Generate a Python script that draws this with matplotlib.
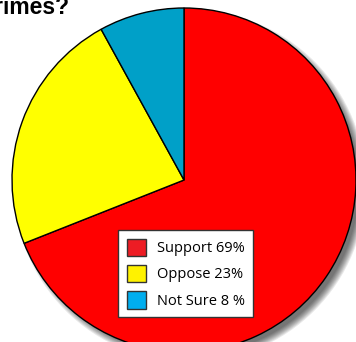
import matplotlib
matplotlib.use("Agg")
import matplotlib.pyplot as plt
from matplotlib.patches import Patch, Circle

## DATA ##
labels = ["Support", "Oppose", "Not Sure"]
shares = [69, 23, 8]
legend_text = ["Support 69%", "Oppose 23%", "Not Sure 8 %"]
title = "Do you support the death penalty for violent crimes?"

pie_colors = ["#FF0000", "#FFFF00", "#00A0C8"]
legend_colors = ["#ED1C24", "#FFF200", "#00AEEF"]

fig = plt.figure(figsize=(3.56, 3.42), dpi=100)
ax = fig.add_axes([0, 0, 1, 1])

# soft drop shadow behind the pie
for i in range(8):
    ax.add_patch(Circle((0.035, -0.035), 1.0 + 0.006 * (4 - i),
                        color="black", alpha=0.09, lw=0, zorder=0))

ax.pie(shares, colors=pie_colors, startangle=90, counterclock=False,
       radius=1.0, wedgeprops=dict(edgecolor="black", linewidth=1.0))

ax.set_xlim(-184 / 172, 172 / 172)
ax.set_ylim(-162 / 172, 180 / 172)
ax.set_aspect("equal")
ax.axis("off")

# title is cut off by the left edge in the original
fig.text(69 / 356, 1 - 14 / 342, title, ha="right", va="baseline",
         fontsize=16.5, fontweight="bold", family="Liberation Sans")

handles = [Patch(facecolor=c, edgecolor="#333333", linewidth=1.0) for c in legend_colors]
leg = ax.legend(handles, legend_text, loc="upper left",
                bbox_to_anchor=(118 / 356, 1 - 230 / 342),
                prop=dict(family="Open Sans", size=10.5),
                handlelength=1.3, handleheight=1.45, handletextpad=0.75,
                labelspacing=0.6, borderpad=0.6, borderaxespad=0,
                fancybox=False, framealpha=1, edgecolor="#333333")
leg.get_frame().set_linewidth(1.0)

fig.savefig("out.png", dpi=100)
